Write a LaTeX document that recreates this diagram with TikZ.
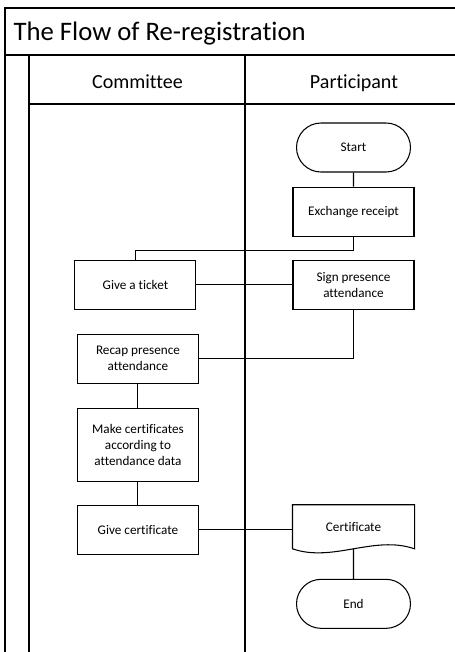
\documentclass[tikz,border=0pt]{standalone}
\usepackage{fontspec}
\setmainfont{Carlito}[Ligatures=NoCommon]
\usetikzlibrary{positioning,shapes.misc}

\newcommand{\boxfont}{\fontsize{7.5}{9.1}\selectfont}

\begin{document}
\begin{tikzpicture}[line width=0.6pt,node distance=0.46cm and 1.92cm,
  lane/.style={line width=0.8pt},
  stepbox/.style={draw,minimum width=2.42cm,minimum height=0.98cm,align=center,inner sep=2pt,font=\boxfont},
  term/.style={stepbox,rounded rectangle},
  doc/.style={minimum width=2.42cm,minimum height=0.86cm,align=center,inner sep=2pt,font=\boxfont}]
\useasboundingbox (0,0) rectangle (9.1,-13.04);
\clip (0,0) rectangle (9.1,-13.04);
% swimlanes
\draw[lane] (0.1,-13.3) |- (9.26,-0.16) -- (9.26,-13.3);
\draw[lane] (0.1,-1.1) -- (9.26,-1.1);
\draw[lane] (0.58,-1.1) -- (0.58,-13.3);
\draw[lane] (0.58,-2.08) -- (9.26,-2.08);
\draw[lane] (4.9,-1.1) -- (4.9,-13.3);
\node[anchor=base west,inner sep=0pt,font=\fontsize{15.2}{18}\selectfont] (title) at (0.26,-0.8) {The Flow of Re-registration};
\node[anchor=base,font=\fontsize{11.4}{14}\selectfont] (committee) at (2.75,-1.76) {Committee};
\node[anchor=base,font=\fontsize{11.4}{14}\selectfont] (participant) at (7.08,-1.76) {Participant};
% steps
\node[term] (start) at (7.07,-2.95) {Start};
\node[stepbox,below=0.28cm of start] (exch) {Exchange receipt};
\node[stepbox,below=of exch] (sign) {Sign presence\\attendance};
\node[stepbox,left=of sign] (ticket) {Give a ticket};
\node[stepbox,below=0.48cm of ticket,xshift=0.05cm] (recap) {Recap presence\\attendance};
\node[stepbox,below=0.48cm of recap,minimum height=1.46cm] (make) {Make certificates\\according to\\attendance data};
\node[stepbox,below=of make] (givecert) {Give certificate};
\node[doc,anchor=north] (cert) at (givecert.north -| sign) {Certificate};
\node[term,below=0.6cm of cert] (end) {End};
\draw (cert.north west) -- (cert.north east) -- (cert.south east)
  .. controls ([shift={(0.41,0.28)}]cert.south) and ([shift={(-0.41,-0.28)}]cert.south) .. (cert.south west) -- cycle;
% connectors
\draw (start) -- (exch);
\draw (exch.south) -- ++(0,-0.28) -| (ticket.north);
\draw (ticket) -- (sign);
\draw (sign.south) |- (recap.east);
\draw (recap) -- (make);
\draw (make) -- (givecert);
\draw (givecert.east) -- (givecert.east -| cert.west);
\draw (cert.south) -- (end);
\end{tikzpicture}
\end{document}
